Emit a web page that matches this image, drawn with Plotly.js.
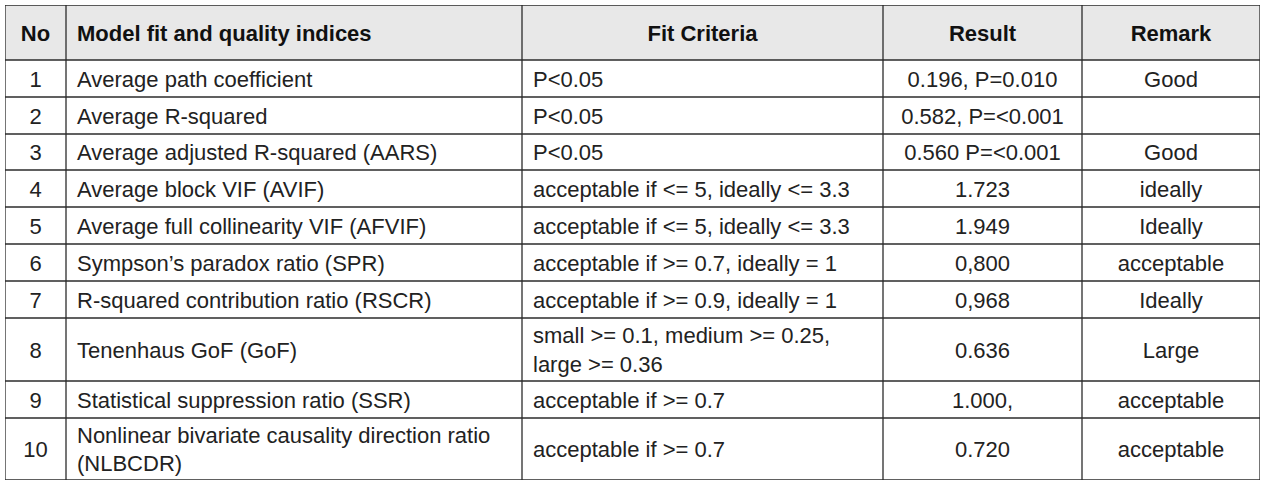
<!DOCTYPE html>
<html>
<head>
<meta charset="utf-8">
<script src="https://cdn.plot.ly/plotly-3.0.1.min.js"></script>
<style>html,body{margin:0;padding:0;background:#fff;}#chart{width:1268px;height:489px;}</style>
</head>
<body>
<div id="chart"></div>
<script>
// ---- data ----
var headers = ["No", "Model fit and quality indices", "Fit Criteria", "Result", "Remark"];
var nos = ["1","2","3","4","5","6","7","8","9","10"];
var indices = [
  "Average path coefficient",
  "Average R-squared",
  "Average adjusted R-squared (AARS)",
  "Average block VIF (AVIF)",
  "Average full collinearity VIF (AFVIF)",
  "Sympson’s paradox ratio (SPR)",
  "R-squared contribution ratio (RSCR)",
  "Tenenhaus GoF (GoF)",
  "Statistical suppression ratio (SSR)",
  "Nonlinear bivariate causality direction ratio<br>(NLBCDR)"
];
var criteria = [
  "P<0.05",
  "P<0.05",
  "P<0.05",
  "acceptable if <= 5, ideally <= 3.3",
  "acceptable if <= 5, ideally <= 3.3",
  "acceptable if >= 0.7, ideally = 1",
  "acceptable if >= 0.9, ideally = 1",
  "small >= 0.1, medium >= 0.25,<br>large >= 0.36",
  "acceptable if >= 0.7",
  "acceptable if >= 0.7"
];
var results = ["0.196, P=0.010","0.582, P=<0.001","0.560 P=<0.001","1.723","1.949","0,800","0,968","0.636","1.000,","0.720"];
var remarks = ["Good","","Good","ideally","Ideally","acceptable","Ideally","Large","acceptable","acceptable"];

// ---- layout constants (pixels) ----
var colWidths = [61, 456, 361, 199, 178];
var colAlign = ["center", "left", "left", "center", "center"];
var headAlign = ["center", "left", "center", "center", "center"];
var headerHeight = 55;
var rowHeights = [37, 37, 36, 37, 37, 37, 37, 63, 37, 62];
var pad = 11;
var textDy = 2.5;
var FONT = "Liberation Sans, Arial, sans-serif";
var LINE = "#2b2b2b";

var esc = function(s){ return s.replace(/</g,"&lt;").replace(/&lt;br>/g,"<br>"); };

var totalW = colWidths.reduce(function(a,b){return a+b;}, 0);
var colStart = [0];
for (var i = 0; i < colWidths.length; i++) colStart.push(colStart[i] + colWidths[i]);
var rowStart = [0, headerHeight];
for (var r = 0; r < rowHeights.length; r++) rowStart.push(rowStart[r+1] + rowHeights[r]);
var totalH = rowStart[rowStart.length-1];

var columns = [nos, indices, criteria, results, remarks];
var traces = [];

function xFor(c, align){
  return align === "left" ? colStart[c] + pad : colStart[c] + colWidths[c] / 2;
}

// header texts
traces.push({
  type: "scatter", mode: "text", hoverinfo: "skip", cliponaxis: false,
  x: headers.map(function(h, c){ return xFor(c, headAlign[c]); }),
  y: headers.map(function(){ return headerHeight / 2 + textDy; }),
  text: headers.map(function(h){ return "<b>" + h + "</b>"; }),
  textposition: headAlign.map(function(a){ return a === "left" ? "middle right" : "middle center"; }),
  textfont: {family: FONT, size: 22, color: "#111111"},
  showlegend: false
});

// body texts, one trace per column
columns.forEach(function(col, c){
  traces.push({
    type: "scatter", mode: "text", hoverinfo: "skip", cliponaxis: false,
    x: col.map(function(){ return xFor(c, colAlign[c]); }),
    y: col.map(function(v, r){ return rowStart[r+1] + rowHeights[r] / 2 + textDy; }),
    text: col.map(esc),
    textposition: colAlign[c] === "left" ? "middle right" : "middle center",
    textfont: {family: FONT, size: 22, color: "#222222"},
    showlegend: false
  });
});

// grid shapes
var shapes = [{
  type: "rect", layer: "below", x0: 0, x1: totalW, y0: 0, y1: headerHeight,
  fillcolor: "#e8e8e8", line: {width: 0}
}];
rowStart.forEach(function(y){
  shapes.push({type: "line", x0: 0, x1: totalW, y0: y, y1: y, line: {color: LINE, width: 1.3}});
});
colStart.forEach(function(x){
  shapes.push({type: "line", x0: x, x1: x, y0: 0, y1: totalH, line: {color: LINE, width: 1.3}});
});

Plotly.newPlot("chart", traces, {
  width: 1268, height: 489,
  margin: {l: 5, r: 1268 - 5 - totalW, t: 5, b: 489 - 5 - totalH},
  paper_bgcolor: "#ffffff", plot_bgcolor: "#ffffff",
  xaxis: {range: [0, totalW], visible: false, fixedrange: true},
  yaxis: {range: [totalH, 0], visible: false, fixedrange: true},
  shapes: shapes,
  showlegend: false
}, {displayModeBar: false, staticPlot: true});
</script>
</body>
</html>
